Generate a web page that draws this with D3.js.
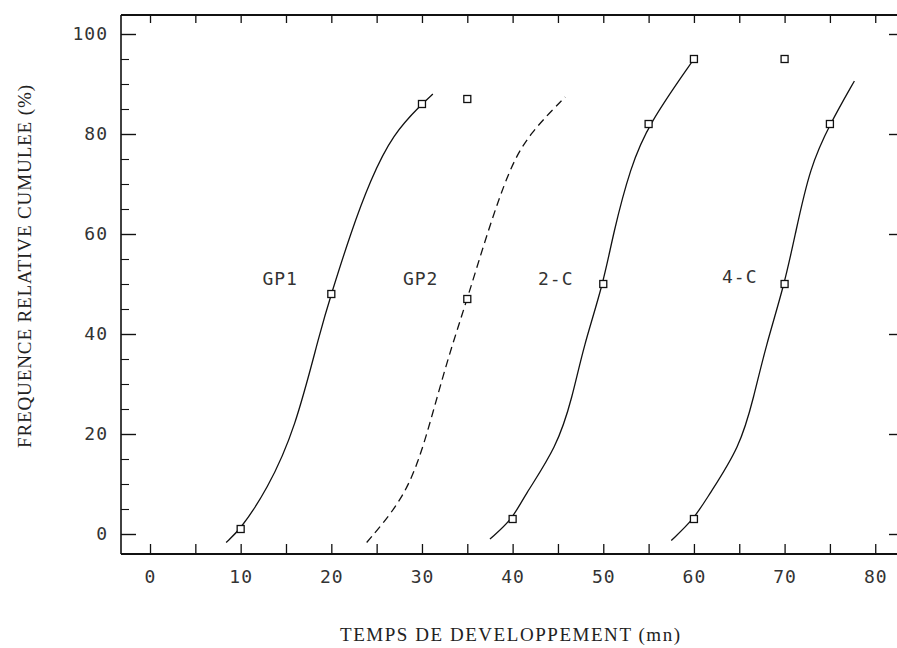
<!DOCTYPE html>
<html>
<head>
<meta charset="utf-8">
<script src="https://cdn.jsdelivr.net/npm/d3@7/dist/d3.min.js"></script>
<style>
  html, body { margin: 0; padding: 0; background: #fff; }
  svg { display: block; }
</style>
</head>
<body>
<svg id="chart" width="897" height="648"></svg>
<script>
// ---- Data ----
const xTicks = [0, 10, 20, 30, 40, 50, 60, 70, 80];
const yTicks = [0, 20, 40, 60, 80, 100];

// Observed points (squares)
const gp1Points = [[10, 1], [20, 48], [30, 86], [35, 87]];
const gp2Points = [[35, 47]];
const c2Points  = [[40, 3], [50, 50], [55, 82], [60, 95], [70, 95]];
const c4Points  = [[60, 3], [70, 50], [75, 82]];

// Fitted curves
const gp1Curve = [[8.4, -1.7], [10, 1], [12.9, 8.8], [16.0, 20.8], [18.8, 40.8], [20, 48], [22.1, 60], [24.3, 70.8], [26.8, 80], [30, 86], [31.2, 88]];
const gp2Curve = [[23.9, -1.7], [27.6, 6.2], [29.6, 14.2], [31.2, 24.2], [32.9, 35.4], [35, 47], [37.2, 60.2], [39.7, 73.4], [41.9, 80.2], [45.8, 87.4]];
const c2Curve  = [[37.5, -1], [40, 3], [41.2, 7.4], [44.9, 17.4], [46.6, 27.4], [47.8, 37.4], [50, 50], [51.1, 60.2], [53.0, 73.4], [55, 82], [60, 95]];
const c4Curve  = [[57.5, -1.3], [60, 3], [61.5, 7.4], [65.1, 17.4], [66.6, 27.4], [67.9, 37.4], [70, 50], [71.2, 60.2], [72.8, 73.4], [75, 82], [77.7, 90.6]];

const seriesNames = ["GP1", "GP2", "2-C", "4-C"];
const labelAnchors = [[12.4, 49.8], [27.9, 49.8], [42.8, 49.8], [63.1, 50.2]];

const xTitle = "TEMPS DE DEVELOPPEMENT (mn)";
const yTitle = "FREQUENCE RELATIVE CUMULEE (%)";

// ---- Drawing ----
(function () {
const svg = d3.select("#chart");
const W = 897, H = 648;
const mLeft = 121, mRight = 897, mTop = 15, mBottom = 554;

const x = d3.scaleLinear().domain([-3.2, 82.4]).range([mLeft, mRight]);
const y = d3.scaleLinear().domain([-4, 103.8]).range([mBottom, mTop]);

const tickFont = "'DejaVu Sans Mono', monospace";
const titleFont = "'Liberation Serif', 'DejaVu Serif', serif";

// Frame lines
const frame = svg.append("g").attr("stroke", "#111").attr("fill", "none");
frame.append("line").attr("x1", mLeft).attr("x2", W).attr("y1", mTop).attr("y2", mTop).attr("stroke-width", 1.8);
frame.append("line").attr("x1", mLeft).attr("x2", W).attr("y1", mBottom).attr("y2", mBottom).attr("stroke-width", 1.8);
frame.append("line").attr("x1", mLeft).attr("x2", mLeft).attr("y1", mTop).attr("y2", mBottom).attr("stroke-width", 1.6);

const xt5 = d3.range(0, 81, 5);
const yt5 = d3.range(0, 101, 5);

// Bottom axis
const bottomAxis = d3.axisBottom(x).tickValues(xt5).tickSize(-10).tickSizeOuter(0)
  .tickFormat(d => xTicks.includes(d) ? String(d) : "").tickPadding(16);
const gB = svg.append("g").attr("transform", `translate(0,${mBottom})`).call(bottomAxis);
gB.select(".domain").remove();
gB.selectAll(".tick line").attr("stroke", "#111").attr("stroke-width", 1.3);
gB.selectAll(".tick text").attr("font-family", tickFont).attr("font-size", 18)
  .attr("fill", "#333").attr("letter-spacing", 1);

// Top axis ticks
const topAxis = d3.axisTop(x).tickValues(xt5).tickSize(-8).tickSizeOuter(0).tickFormat("");
const gT = svg.append("g").attr("transform", `translate(0,${mTop})`).call(topAxis);
gT.select(".domain").remove();
gT.selectAll(".tick line").attr("stroke", "#111").attr("stroke-width", 1.3);

// Left axis: majors
const leftMajor = d3.axisLeft(y).tickValues(yTicks).tickSize(-15).tickSizeOuter(0).tickPadding(13)
  .tickFormat(d => String(d));
const gL = svg.append("g").attr("transform", `translate(${mLeft},0)`).call(leftMajor);
gL.select(".domain").remove();
gL.selectAll(".tick line").attr("stroke", "#111").attr("stroke-width", 1.4);
gL.selectAll(".tick text").attr("font-family", tickFont).attr("font-size", 18)
  .attr("fill", "#333").attr("letter-spacing", 1);

// Left axis: minors
const leftMinor = d3.axisLeft(y).tickValues(yt5.filter(v => v % 20 !== 0)).tickSize(-8).tickSizeOuter(0).tickFormat("");
const gLm = svg.append("g").attr("transform", `translate(${mLeft},0)`).call(leftMinor);
gLm.select(".domain").remove();
gLm.selectAll(".tick line").attr("stroke", "#111").attr("stroke-width", 1.1);

// Right axis ticks
const rightMajor = d3.axisRight(y).tickValues(yTicks).tickSize(-8).tickSizeOuter(0).tickFormat("");
const gR = svg.append("g").attr("transform", `translate(${W},0)`).call(rightMajor);
gR.select(".domain").remove();
gR.selectAll(".tick line").attr("stroke", "#111").attr("stroke-width", 1.4);

// Curves
const line = d3.line().x(d => x(d[0])).y(d => y(d[1])).curve(d3.curveBasis);
const curves = [gp1Curve, gp2Curve, c2Curve, c4Curve];
curves.forEach((c, i) => {
  svg.append("path").datum(c).attr("d", line)
    .attr("fill", "none").attr("stroke", "#111").attr("stroke-width", 1.3)
    .attr("stroke-dasharray", i === 1 ? "8,5" : null);
});

// Squares
const allPoints = [gp1Points, gp2Points, c2Points, c4Points];
const s = 7;
allPoints.forEach(pts => {
  svg.append("g").selectAll("rect").data(pts).join("rect")
    .attr("x", d => x(d[0]) - s / 2).attr("y", d => y(d[1]) - s / 2)
    .attr("width", s).attr("height", s)
    .attr("fill", "#fff").attr("stroke", "#111").attr("stroke-width", 1.3);
});

// Series labels
svg.append("g").selectAll("text").data(seriesNames).join("text")
  .attr("x", (d, i) => x(labelAnchors[i][0]))
  .attr("y", (d, i) => y(labelAnchors[i][1]))
  .attr("font-family", tickFont).attr("font-size", 18).attr("fill", "#333")
  .attr("letter-spacing", 1)
  .text(d => d);

// Axis titles
svg.append("text").attr("x", 340).attr("y", 641)
  .attr("textLength", 340).attr("lengthAdjust", "spacing")
  .attr("font-family", titleFont).attr("font-size", 19).attr("fill", "#222")
  .text(xTitle);
svg.append("text").attr("transform", "translate(31,448) rotate(-90)")
  .attr("textLength", 363).attr("lengthAdjust", "spacing")
  .attr("font-family", titleFont).attr("font-size", 19).attr("fill", "#222")
  .text(yTitle);
})();
</script>
</body>
</html>
